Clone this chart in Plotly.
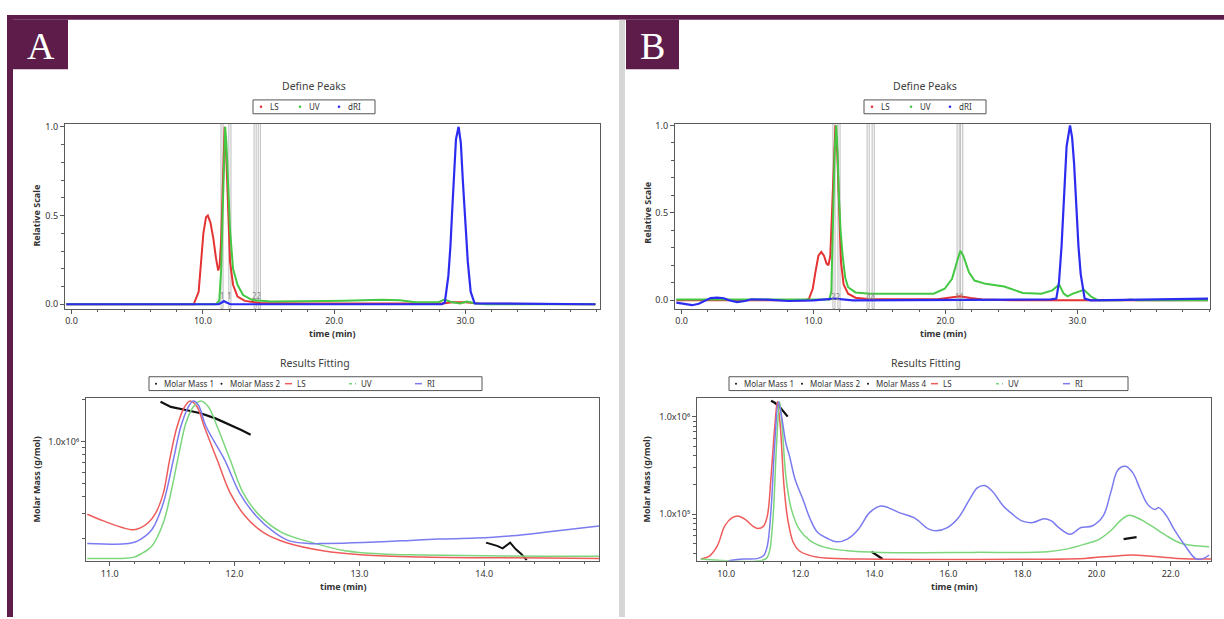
import plotly.graph_objects as go

W, H = 1224, 619
FONT = "Noto Sans"
MAROON = "#5e1c4b"


def fx(p):
    return p / W


def fy(p):
    return 1 - p / H


# ---------------- Panel A : Define Peaks (relative scale) ----------------
a_ls_t = [-0.4, 9.3, 9.68, 9.87, 10.04, 10.24, 10.38, 10.58, 10.8, 11.0, 11.17, 11.28, 11.4, 11.5,
          11.58, 11.66, 11.8, 11.93, 12.07, 12.3, 12.64, 13.2, 14.33, 18.0, 28.3, 29.0, 30.0, 31.0, 39.9]
a_ls_v = [0.0, 0.0, 0.07, 0.26, 0.40, 0.49, 0.50, 0.46, 0.37, 0.26, 0.19, 0.22, 0.37, 0.62,
          0.88, 1.0, 0.8, 0.52, 0.24, 0.11, 0.043, 0.019, 0.007, 0.004, 0.004, 0.012, 0.012, 0.004, 0.0]
a_uv_t = [-0.4, 11.0, 11.25, 11.4, 11.5, 11.6, 11.7, 11.8, 11.93, 12.07, 12.3, 12.64, 13.06, 13.77, 15.2,
          16.6, 19.4, 20.8, 22.2, 23.6, 25.0, 26.2, 27.9, 28.4, 29.0, 29.6, 30.1, 30.7, 31.5, 39.9]
a_uv_v = [0.0, 0.0, 0.02, 0.2, 0.5, 0.85, 1.0, 0.9, 0.65, 0.42, 0.2, 0.11, 0.052, 0.024, 0.015,
          0.015, 0.019, 0.02, 0.022, 0.026, 0.022, 0.011, 0.011, 0.026, 0.011, 0.004, 0.015, 0.006, 0.0, 0.0]
a_ri_t = [-0.4, 11.2, 11.45, 11.6, 11.8, 12.1, 28.2, 28.43, 28.7, 28.86, 29.0, 29.14, 29.28, 29.48,
          29.65, 29.8, 29.99, 30.18, 30.4, 30.7, 39.9]
a_ri_v = [0.0, 0.0, 0.01, 0.018, 0.01, 0.0, 0.0, 0.01, 0.16, 0.33, 0.54, 0.76, 0.93, 1.0,
          0.91, 0.70, 0.46, 0.24, 0.07, 0.005, 0.0]
# peak number, start and end time of each defined peak
a_peak_ids = ["1", "2"]
a_peak_start = [11.46, 13.98]
a_peak_end = [12.06, 14.30]

# ---------------- Panel A : Results Fitting ----------------
a_fit_ls_t = [10.82, 10.95, 11.10, 11.19, 11.25, 11.31, 11.37, 11.43, 11.48, 11.54, 11.60, 11.645, 11.70,
              11.757, 11.861, 11.965, 12.084, 12.233, 12.411, 12.708, 13.035, 13.5, 14.0, 14.5, 14.92]
a_fit_ls_v = [0.286, 0.245, 0.204, 0.19, 0.204, 0.235, 0.296, 0.418, 0.622, 0.827, 0.949, 0.985, 0.949,
              0.827, 0.622, 0.418, 0.276, 0.173, 0.112, 0.061, 0.035, 0.022, 0.018, 0.016, 0.014]
a_fit_uv_t = [10.82, 11.10, 11.19, 11.25, 11.34, 11.43, 11.49, 11.55, 11.61, 11.67, 11.73, 11.79,
              11.861, 11.965, 12.069, 12.203, 12.381, 12.619, 12.886, 13.183, 13.5, 14.0, 14.5, 14.92]
a_fit_uv_v = [0.014, 0.014, 0.02, 0.041, 0.092, 0.235, 0.418, 0.643, 0.847, 0.949, 0.985, 0.949,
              0.827, 0.622, 0.418, 0.276, 0.173, 0.112, 0.061, 0.041, 0.035, 0.03, 0.027, 0.027]
a_fit_ri_t = [10.82, 11.10, 11.19, 11.25, 11.34, 11.43, 11.51, 11.57, 11.63, 11.67, 11.71, 11.772, 11.921,
              12.04, 12.173, 12.322, 12.44, 12.59, 12.74, 13.03, 13.33, 13.63, 13.93, 14.22, 14.52, 14.92]
a_fit_ri_v = [0.106, 0.102, 0.112, 0.133, 0.194, 0.357, 0.622, 0.827, 0.949, 0.985, 0.96, 0.827, 0.622,
              0.418, 0.276, 0.173, 0.122, 0.106, 0.106, 0.112, 0.122, 0.133, 0.139, 0.153, 0.178, 0.214]
a_mm1_t = [11.407, 11.49, 11.609, 11.728, 11.847, 11.965, 12.054, 12.129]
a_mm1_m = [1.94e6, 1.78e6, 1.69e6, 1.60e6, 1.47e6, 1.32e6, 1.21e6, 1.12e6]
a_mm2_t = [14.015, 14.059, 14.104, 14.148, 14.208, 14.252, 14.297, 14.341]
a_mm2_m = [1.86e5, 1.81e5, 1.76e5, 1.69e5, 1.86e5, 1.67e5, 1.54e5, 1.39e5]

# ---------------- Panel B : Define Peaks ----------------
b_ls_t = [-0.4, 9.4, 9.66, 9.94, 10.14, 10.37, 10.59, 10.79, 10.99, 11.13, 11.27, 11.41, 11.55, 11.66,
          11.8, 11.94, 12.08, 12.28, 12.62, 13.18, 14.3, 19.4, 20.2, 21.1, 21.9, 22.8, 25.0, 39.9]
b_ls_v = [0.0, 0.0, 0.01, 0.066, 0.16, 0.255, 0.277, 0.255, 0.21, 0.2, 0.255, 0.5, 0.84, 1.0,
          0.84, 0.5, 0.22, 0.09, 0.038, 0.015, 0.006, 0.006, 0.015, 0.023, 0.013, 0.005, 0.0, 0.0]
b_uv_t = [-0.4, 11.2, 11.35, 11.49, 11.6, 11.72, 11.82, 11.92, 12.05, 12.2, 12.4, 12.62, 13.18, 14.3,
          16.56, 17.97, 19.1, 19.94, 20.5, 20.93, 21.13, 21.35, 21.78, 22.2, 23.04, 24.45, 25.0,
          25.86, 27.27, 28.1, 28.62, 28.96, 29.24, 29.66, 30.5, 31.07, 31.6, 33.5, 34.0, 34.5, 39.9]
b_uv_v = [0.004, 0.004, 0.05, 0.5, 0.85, 1.0, 0.85, 0.6, 0.4, 0.26, 0.13, 0.075, 0.045, 0.038,
          0.038, 0.042, 0.038, 0.066, 0.123, 0.236, 0.283, 0.255, 0.16, 0.113, 0.094, 0.079, 0.066,
          0.042, 0.038, 0.057, 0.09, 0.038, 0.023, 0.038, 0.06, 0.019, 0.0, 0.0, 0.005, 0.0, 0.0]
b_ri_t = [-0.4, 0.3, 0.8, 1.3, 1.8, 2.2, 2.7, 3.2, 3.6, 4.2, 4.8, 5.3, 6.5, 8.1, 10.0, 11.6, 13.0,
          20.0, 28.0, 28.4, 28.6, 28.8, 29.0, 29.18, 29.44, 29.6, 29.75, 29.9, 30.08, 30.25, 30.37,
          30.55, 31.0, 35.0, 37.0, 39.9]
b_ri_v = [-0.013, -0.02, -0.028, -0.02, 0.0, 0.013, 0.015, 0.012, 0.0, -0.01, -0.004, 0.006, 0.004,
          -0.004, 0.0, 0.01, 0.0, 0.002, 0.005, 0.01, 0.1, 0.31, 0.62, 0.88, 1.0, 0.93, 0.78, 0.55,
          0.31, 0.15, 0.085, 0.01, 0.0, 0.004, 0.008, 0.01]
b_peak_ids = ["2", "4", "1"]
b_peak_start = [11.55, 14.14, 20.96]
b_peak_end = [11.93, 14.52, 21.23]

# ---------------- Panel B : Results Fitting ----------------
b_fit_ls_t = [9.31, 9.56, 9.76, 9.96, 10.16, 10.31, 10.51, 10.71, 10.86, 11.01, 11.11, 11.21, 11.31,
              11.38, 11.46, 11.56, 11.66, 11.81, 11.97, 12.27, 12.67, 13.67, 19.68, 20.18, 20.68,
              20.98, 21.48, 22.19, 23.09]
b_fit_ls_v = [0.01, 0.031, 0.092, 0.214, 0.265, 0.276, 0.255, 0.214, 0.198, 0.214, 0.276, 0.52, 0.827,
              0.98, 0.827, 0.459, 0.255, 0.112, 0.061, 0.031, 0.016, 0.01, 0.014, 0.024, 0.031,
              0.035, 0.027, 0.014, 0.01]
b_fit_uv_t = [9.31, 11.06, 11.16, 11.26, 11.36, 11.44, 11.51, 11.61, 11.76, 11.97, 12.27, 12.67, 13.27,
              14.17, 16.67, 18.68, 19.18, 19.68, 20.08, 20.38, 20.68, 20.88, 21.18, 21.48, 21.89,
              22.29, 22.69, 23.04]
b_fit_uv_v = [0.01, 0.01, 0.051, 0.255, 0.724, 0.98, 0.827, 0.52, 0.316, 0.194, 0.122, 0.082, 0.061,
              0.051, 0.051, 0.055, 0.071, 0.102, 0.133, 0.184, 0.255, 0.28, 0.255, 0.214, 0.153,
              0.106, 0.092, 0.086]
b_fit_ri_t = [10.06, 10.46, 10.86, 11.01, 11.11, 11.21, 11.31, 11.41, 11.51, 11.61, 11.71, 11.86, 12.07,
              12.27, 12.47, 12.77, 12.97, 13.27, 13.57, 13.87, 14.17, 14.37, 14.67, 15.07, 15.47,
              15.67, 15.97, 16.27, 16.57, 16.78, 16.98, 17.18, 17.48, 17.68, 17.98, 18.28, 18.58,
              18.78, 18.98, 19.28, 19.58, 19.88, 20.18, 20.38, 20.58, 20.78, 20.98, 21.18, 21.38,
              21.58, 21.68, 21.89, 22.09, 22.39, 22.69, 22.89, 23.04]
b_fit_ri_v = [0.0, 0.01, 0.014, 0.031, 0.092, 0.316, 0.724, 0.98, 0.867, 0.724, 0.643, 0.5, 0.378,
              0.255, 0.173, 0.133, 0.116, 0.133, 0.194, 0.296, 0.337, 0.327, 0.296, 0.265, 0.194,
              0.184, 0.204, 0.265, 0.378, 0.449, 0.463, 0.429, 0.337, 0.296, 0.245, 0.235, 0.259,
              0.245, 0.204, 0.163, 0.204, 0.214, 0.276, 0.418, 0.561, 0.582, 0.541, 0.439, 0.347,
              0.316, 0.327, 0.276, 0.194, 0.092, 0.01, 0.014, 0.035]
b_mm1_t = [20.73, 20.83, 20.93, 21.08]
b_mm1_m = [5.57e4, 5.66e4, 5.70e4, 5.83e4]
b_mm2_t = [11.21, 11.31, 11.44, 11.56, 11.66]
b_mm2_m = [1.455e6, 1.387e6, 1.265e6, 1.125e6, 1.0e6]
b_mm4_t = [13.92, 14.02, 14.12, 14.22]
b_mm4_m = [4.14e4, 3.92e4, 3.68e4, 3.48e4]

# ---------------- colours ----------------
TOP_COL = {"LS": "#e53232", "UV": "#44c844", "dRI": "#2c2cf0"}
FIT_COL = {"LS": "#ef5b5b", "UV": "#7cd67c", "RI": "#7b7bf0"}

fig = go.Figure()


def line(x, y, xa, ya, color, width=2.0, shape="linear", dash="solid"):
    fig.add_trace(go.Scatter(x=x, y=y, xaxis=xa, yaxis=ya, mode="lines", showlegend=False,
                             hoverinfo="skip",
                             line=dict(color=color, width=width, shape=shape, dash=dash)))


# Define Peaks traces
line(a_ls_t, a_ls_v, "x", "y", TOP_COL["LS"])
line(a_uv_t, a_uv_v, "x", "y", TOP_COL["UV"])
line(a_ri_t, a_ri_v, "x", "y", TOP_COL["dRI"], 2.2)
line(b_ls_t, b_ls_v, "x3", "y3", TOP_COL["LS"])
line(b_uv_t, b_uv_v, "x3", "y3", TOP_COL["UV"])
line(b_ri_t, b_ri_v, "x3", "y3", TOP_COL["dRI"], 2.2)

# Results Fitting detector overlays (own linear scale) and molar masses (log scale)
line(a_fit_ls_t, a_fit_ls_v, "x2", "y5", FIT_COL["LS"], 1.5, "spline")
line(a_fit_uv_t, a_fit_uv_v, "x2", "y5", FIT_COL["UV"], 1.5, "spline")
line(a_fit_ri_t, a_fit_ri_v, "x2", "y5", FIT_COL["RI"], 1.5, "spline")
line(a_mm1_t, a_mm1_m, "x2", "y2", "#111111", 2.2)
line(a_mm2_t, a_mm2_m, "x2", "y2", "#111111", 2.0)

line(b_fit_ls_t, b_fit_ls_v, "x4", "y6", FIT_COL["LS"], 1.5, "spline")
line(b_fit_uv_t, b_fit_uv_v, "x4", "y6", FIT_COL["UV"], 1.5, "spline")
line(b_fit_ri_t, b_fit_ri_v, "x4", "y6", FIT_COL["RI"], 1.5, "spline")
line(b_mm1_t, b_mm1_m, "x4", "y4", "#111111", 2.2)
line(b_mm2_t, b_mm2_m, "x4", "y4", "#111111", 2.2)
line(b_mm4_t, b_mm4_m, "x4", "y4", "#111111", 2.2)

# ---------------- axes ----------------
AX = dict(showline=True, mirror=True, linecolor="#5a5a5a", linewidth=1.3, ticks="outside",
          ticklen=4, tickwidth=1, tickcolor="#5a5a5a", showgrid=False, zeroline=False,
          tickfont=dict(family=FONT, size=9, color="#333333"))
MINOR = dict(ticks="outside", ticklen=2.5, tickwidth=1, tickcolor="#5a5a5a", showgrid=False)

top_dom_y = [fy(307), fy(120)]
fit_dom_y = [fy(562), fy(398)]

layout = dict(
    width=W, height=H, margin=dict(l=0, r=0, t=0, b=0),
    paper_bgcolor="white", plot_bgcolor="white", showlegend=False,
    xaxis=dict(AX, domain=[fx(65), fx(600)], range=[-0.5, 40.25], anchor="y",
               tickvals=[0, 10, 20, 30], tickformat=".1f", minor=dict(MINOR, dtick=2, tick0=0)),
    yaxis=dict(AX, domain=top_dom_y, range=[-0.024, 1.018], anchor="x",
               tickvals=[0, 0.5, 1.0], tickformat=".1f", minor=dict(MINOR, dtick=0.1, tick0=0)),
    xaxis2=dict(AX, domain=[fx(86), fx(599)], range=[10.81, 14.92], anchor="y2",
                tickvals=[11, 12, 13, 14], tickformat=".1f", minor=dict(MINOR, dtick=0.2, tick0=11)),
    yaxis2=dict(AX, domain=fit_dom_y, type="log", range=[5.139, 6.311], anchor="x2",
                tickvals=[1e6], ticktext=["1.0x10\u2076"],
                minor=dict(MINOR, tickmode="array",
                           tickvals=[2e5, 3e5, 4e5, 5e5, 6e5, 7e5, 8e5, 9e5, 2e6])),
    xaxis3=dict(AX, domain=[fx(675), fx(1210)], range=[-0.5, 40.05], anchor="y3",
                tickvals=[0, 10, 20, 30], tickformat=".1f", minor=dict(MINOR, dtick=2, tick0=0)),
    yaxis3=dict(AX, domain=top_dom_y, range=[-0.047, 1.01], anchor="x3",
                tickvals=[0, 0.5, 1.0], tickformat=".1f", minor=dict(MINOR, dtick=0.1, tick0=0)),
    xaxis4=dict(AX, domain=[fx(697), fx(1211)], range=[9.21, 23.09], anchor="y4",
                tickvals=[10, 12, 14, 16, 18, 20, 22], tickformat=".1f",
                minor=dict(MINOR, dtick=0.5, tick0=10)),
    yaxis4=dict(AX, domain=fit_dom_y, type="log", range=[4.525, 6.186], anchor="x4",
                tickvals=[1e5, 1e6], ticktext=["1.0x10\u2075", "1.0x10\u2076"],
                minor=dict(MINOR, tickmode="array",
                           tickvals=[4e4, 5e4, 6e4, 7e4, 8e4, 9e4, 2e5, 3e5, 4e5, 5e5, 6e5, 7e5,
                                     8e5, 9e5])),
    yaxis5=dict(overlaying="y2", anchor="x2", range=[0, 1], visible=False),
    yaxis6=dict(overlaying="y4", anchor="x4", range=[0, 1], visible=False),
)
fig.update_layout(**layout)

shapes = []
annotations = []


def text(x, y, s, size=9, color="#333333", bold=False, angle=0, xanchor="center",
         family=FONT, xref="paper", yref="paper"):
    if xref == "paper":
        x = fx(x)
    if yref == "paper":
        y = fy(y)
    annotations.append(dict(x=x, y=y, xref=xref, yref=yref, text=("<b>%s</b>" % s) if bold else s,
                            showarrow=False, textangle=angle, xanchor=xanchor, yanchor="middle",
                            font=dict(family=family, size=size, color=color)))


def rect(x0, y0, x1, y1, fill=None, line_color=None, lw=0):
    shapes.append(dict(type="rect", xref="paper", yref="paper", x0=fx(x0), x1=fx(x1),
                       y0=fy(y1), y1=fy(y0), fillcolor=fill or "rgba(0,0,0,0)",
                       line=dict(color=line_color or "rgba(0,0,0,0)", width=lw), layer="above"))


# page frame: maroon header rule, left rule, grey divider, panel letters
rect(7, 10, 1224, 15, fill=MAROON)
rect(7, 10, 13, 619, fill=MAROON)
rect(619, 15, 625, 619, fill="#d6d6d6")
rect(13, 15, 68, 65, fill=MAROON)
rect(626, 15, 679, 65, fill=MAROON)
text(40.5, 41, "A", size=38, color="white", family="Liberation Serif")
text(652.5, 41, "B", size=38, color="white", family="Liberation Serif")

# chart titles
for cx, title_y, title in [(314, 82, "Define Peaks"), (925, 82, "Define Peaks"),
                           (315, 362, "Results Fitting"), (926, 362, "Results Fitting")]:
    text(cx, title_y, title, size=10.5, color="#404040")

# axis titles
text(37, 213, "Relative Scale", size=9, bold=True, angle=-90)
text(648, 210, "Relative Scale", size=9, bold=True, angle=-90)
text(37, 480, "Molar Mass (g/mol)", size=9, bold=True, angle=-90)
text(647, 480, "Molar Mass (g/mol)", size=9, bold=True, angle=-90)
text(332, 332, "time (min)", size=9, bold=True)
text(943, 332, "time (min)", size=9, bold=True)
text(343, 588, "time (min)", size=9, bold=True)
text(954, 588, "time (min)", size=9, bold=True)


# legends drawn as boxed keys
def dot(cx, cy, color, r=1.3):
    shapes.append(dict(type="circle", xref="paper", yref="paper", x0=fx(cx - r), x1=fx(cx + r),
                       y0=fy(cy + r), y1=fy(cy - r), fillcolor=color, line=dict(width=0),
                       layer="above"))


def key_line(x0, x1, cy, color, dash="solid"):
    shapes.append(dict(type="line", xref="paper", yref="paper", x0=fx(x0), x1=fx(x1),
                       y0=fy(cy), y1=fy(cy), line=dict(color=color, width=1.5, dash=dash),
                       layer="above"))


def key_text(x, cy, s):
    text(x, cy, s, size=8, color="#333333", xanchor="left")


for x0, x1 in [(253, 375), (864, 986)]:
    rect(x0, 96, x1, 110, line_color="#555555", lw=1)
for base in [0, 611]:
    for dx, tx, name, col in [(261, 268, "LS", TOP_COL["LS"]), (300, 307, "UV", TOP_COL["UV"]),
                              (339, 346, "dRI", TOP_COL["dRI"])]:
        dot(dx + base, 103, col)
        key_text(tx + base, 103, name)

rect(149, 376, 482, 390, line_color="#555555", lw=1)
rect(729, 376, 1128, 390, line_color="#555555", lw=1)
for cx, name in [(156, "Molar Mass 1"), (221.5, "Molar Mass 2")]:
    dot(cx, 383, "#111111", 1.0)
    key_text(cx + 6, 383, name)
for cx, name in [(736, "Molar Mass 1"), (802, "Molar Mass 2"), (868, "Molar Mass 4")]:
    dot(cx, 383, "#111111", 1.0)
    key_text(cx + 6, 383, name)
for x0, name, col, dash in [(285, "LS", FIT_COL["LS"], "solid"), (349, "UV", FIT_COL["UV"], "dot"),
                            (415, "RI", FIT_COL["RI"], "solid")]:
    key_line(x0, x0 + 7, 383, col, dash)
    key_text(x0 + 10, 383, name)
for x0, name, col, dash in [(931, "LS", FIT_COL["LS"], "solid"), (996, "UV", FIT_COL["UV"], "dot"),
                            (1063, "RI", FIT_COL["RI"], "solid")]:
    key_line(x0, x0 + 7, 383, col, dash)
    key_text(x0 + 10, 383, name)


# peak boundary markers on the Define Peaks plots: a double grey rule at each
# boundary, and the peak number written at the foot of each rule
def peak_marks(ids, starts, ends, xa, ya, label_y):
    for pid, t0, t1 in zip(ids, starts, ends):
        for t in (t0, t1):
            shapes.append(dict(type="rect", xref=xa, yref=ya + " domain", x0=t - 0.08, x1=t + 0.08,
                               y0=0, y1=1, fillcolor="rgba(0,0,0,0)",
                               line=dict(color="#bcbcbc", width=1), layer="below"))
        if t1 - t0 > 0.5:
            text(t0, label_y, pid, size=8, color="#8a8a8a", xref=xa, yref=ya)
            text(t1, label_y, pid, size=8, color="#8a8a8a", xref=xa, yref=ya)
        else:
            text((t0 + t1) / 2, label_y, pid + pid, size=8, color="#8a8a8a", xref=xa, yref=ya)


peak_marks(a_peak_ids, a_peak_start, a_peak_end, "x", "y", 0.048)
peak_marks(b_peak_ids, b_peak_start, b_peak_end, "x3", "y3", 0.02)

fig.update_layout(shapes=shapes, annotations=annotations)
fig.write_html("out.html")
